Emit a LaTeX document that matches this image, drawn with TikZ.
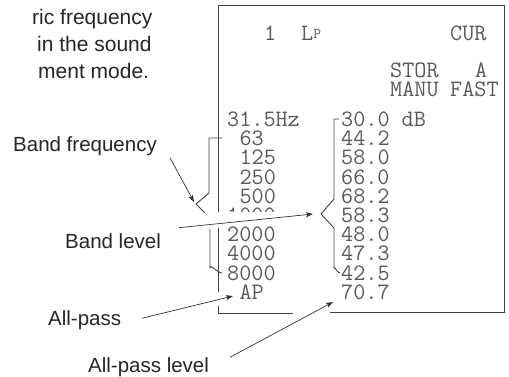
\documentclass[tikz,border=0pt]{standalone}
\usepackage{fontspec}
\setmainfont{Liberation Sans}
\usetikzlibrary{arrows.meta,calc}
\begin{document}
\begin{tikzpicture}[x=1pt,y=-1pt,
  lbl/.style={font=\fontsize{20.5}{20.5}\selectfont, inner sep=0pt, anchor=base west, text=black!85},
  toptxt/.style={font=\fontsize{21}{21}\selectfont, inner sep=0pt, anchor=base west, text=black!85},
  lcd/.style={font=\fontsize{23.5}{23.5}\selectfont\ttfamily, inner sep=0pt, anchor=base west, text=black!65},
  frame/.style={line width=0.9pt, draw=black!75},
  brk/.style={line width=0.9pt, draw=black!75, line join=round},
  arr/.style={line width=0.7pt, draw=black!80, -{Stealth[length=7pt,width=5pt,inset=1.5pt]}}]

\useasboundingbox (0,0) rectangle (509,376);

% explanatory text at the top
\node[toptxt] (t1) at (32,24.5) {ric frequency};
\node[toptxt] (t2) at (37,51.5) {in the sound};
\node[toptxt] (t3) at (38,78.5) {ment mode.};

% display frame
\draw[frame] (218,212) -- (218,5) -- (504,5) -- (504,312) -- (330,312);
\draw[frame] (218,228) -- (218,292);
\draw[frame] (218,306) -- (218,313) -- (293,313);

% display header
\node[lcd] (d1) at (264,40) {1};
\node[lcd] (dlp) at (301,40) {L\raisebox{2pt}{\fontsize{15}{15}\selectfont P}};
\node[lcd] (dcur) at (450,40) {CUR};
\node[lcd] (dstor) at (390,77.5) {STOR};
\node[lcd] (da) at (475,77.5) {A};
\node[lcd] (dmanu) at (390,96.5) {MANU};
\node[lcd] (dfast) at (450,96.5) {FAST};

% band frequencies
\node[lcd] (f0) at (227,126.5) {31.5Hz};
\node[lcd] (f1) at (239.4,145.7) {63};
\node[lcd] (f2) at (239.4,164.9) {125};
\node[lcd] (f3) at (239.4,184.1) {250};
\node[lcd] (f4) at (239.4,203.3) {500};
\begin{scope}
  \clip (220,205) rectangle (290,211.5);
  \node[lcd] (f5) at (227,222.5) {1000};
\end{scope}
\node[lcd] (f6) at (227,241.7) {2000};
\node[lcd] (f7) at (227,260.9) {4000};
\node[lcd] (f8) at (227,280.1) {8000};
\node[lcd] (f9) at (239.4,299.3) {AP};

% band levels
\node[lcd] (l0) at (341,126.5) {30.0 dB};
\node[lcd] (l1) at (341,145.7) {44.2};
\node[lcd] (l2) at (341,164.9) {58.0};
\node[lcd] (l3) at (341,184.1) {66.0};
\node[lcd] (l4) at (341,203.3) {68.2};
\node[lcd] (l5) at (341,222.5) {58.3};
\node[lcd] (l6) at (341,241.7) {48.0};
\node[lcd] (l7) at (341,260.9) {47.3};
\node[lcd] (l8) at (341,280.1) {42.5};
\node[lcd] (l9) at (341,299.3) {70.7};

% brackets
\draw[brk] (222,138) -- (209,138) -- (209,193) -- (196,204) -- (205,213);
\draw[brk] (210,229) -- (210,268) to[out=90,in=180] (222,273);
\draw[brk] (339,119) -- (334,119) -- (334,199) -- (321,214) -- (334,228) -- (334,268) to[out=90,in=180] (340,273);

% callout labels
\node[lbl] (bf) at (13,151) {Band frequency};
\node[lbl] (bl) at (65,248) {Band level};
\node[lbl] (ap) at (48,325) {All-pass};
\node[lbl] (apl) at (88,372) {All-pass level};

\coordinate (bft) at (194,202);
\coordinate (blt) at (313,214);
\coordinate (apt) at (233,296);
\coordinate (aplt) at (333,302);

\draw[arr] ([shift={(13,12)}]bf.east) -- (bft);
\draw[arr] ([shift={(18,-13)}]bl.east) -- (blt);
\draw[arr] ([shift={(21,-1.5)}]ap.east) -- (apt);
\draw[arr] ([shift={(21,-9.5)}]apl.east) -- (aplt);
\end{tikzpicture}
\end{document}
